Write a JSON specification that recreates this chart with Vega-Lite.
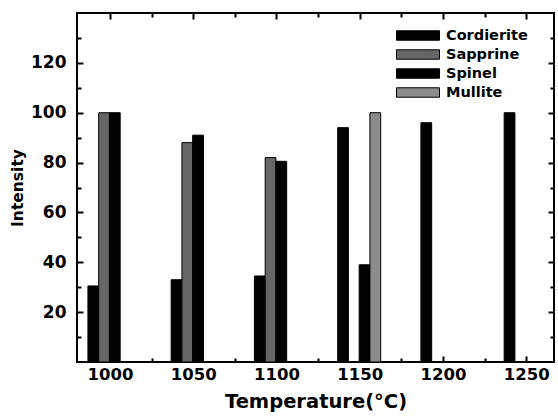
{
  "$schema": "https://vega.github.io/schema/vega-lite/v6.json",
  "width": 477,
  "height": 349,
  "autosize": {"type": "none"},
  "padding": {"left": 77, "top": 13, "right": 4, "bottom": 56},
  "background": "white",
  "config": {
    "view": {"stroke": "black", "strokeWidth": 2},
    "font": "DejaVu Sans"
  },
  "data": {
    "values": [
      {"T": 1000, "phase": "Cordierite", "I": 30.5},
      {"T": 1000, "phase": "Sapprine", "I": 100},
      {"T": 1000, "phase": "Spinel", "I": 100},
      {"T": 1050, "phase": "Cordierite", "I": 33},
      {"T": 1050, "phase": "Sapprine", "I": 88},
      {"T": 1050, "phase": "Spinel", "I": 91},
      {"T": 1100, "phase": "Cordierite", "I": 34.5},
      {"T": 1100, "phase": "Sapprine", "I": 82},
      {"T": 1100, "phase": "Spinel", "I": 80.5},
      {"T": 1150, "phase": "Cordierite", "I": 94},
      {"T": 1150, "phase": "Spinel", "I": 39},
      {"T": 1150, "phase": "Mullite", "I": 100},
      {"T": 1200, "phase": "Cordierite", "I": 96},
      {"T": 1250, "phase": "Cordierite", "I": 100}
    ]
  },
  "layer": [
    {
      "mark": {"type": "bar", "stroke": "black", "strokeWidth": 1},
      "encoding": {
        "x": {
          "field": "T", "type": "ordinal",
          "scale": {"domain": [1000, 1025, 1050, 1075, 1100, 1125, 1150, 1175, 1200, 1225, 1250], "paddingInner": 0, "paddingOuter": 0.23, "align": 0.66},
          "axis": {
            "orient": "bottom",
            "labelExpr": "datum.value % 50 === 0 ? datum.label : ''",
            "labelAngle": 0,
            "tickSize": {"condition": {"test": "datum.value % 50 === 0", "value": -6}, "value": -4},
            "tickColor": "black", "tickWidth": 2,
            "domain": false, "grid": false,
            "labelFont": "DejaVu Sans", "labelFontWeight": "bold", "labelFontSize": 16.5,
            "labelColor": "black", "labelPadding": 10, "labelFlush": false,
            "title": "Temperature(°C)",
            "titleFont": "DejaVu Sans", "titleFontWeight": "bold", "titleFontSize": 19.5,
            "titleColor": "black", "titlePadding": 8
          }
        },
        "xOffset": {
          "field": "phase", "type": "nominal",
          "scale": {"domain": ["Cordierite", "Sapprine", "Spinel", "Mullite"], "range": [-1.7, 41.3], "paddingInner": 0, "paddingOuter": 0}
        },
        "y": {
          "field": "I", "type": "quantitative",
          "stack": null,
          "scale": {"domain": [0, 140], "nice": false, "zero": false},
          "axis": {
            "orient": "left",
            "values": [10, 20, 30, 40, 50, 60, 70, 80, 90, 100, 110, 120, 130],
            "labelExpr": "datum.value % 20 === 0 ? datum.label : ''",
            "tickSize": {"condition": {"test": "datum.value % 20 === 0", "value": -6}, "value": -4},
            "tickColor": "black", "tickWidth": 2,
            "domain": false, "grid": false,
            "labelFont": "DejaVu Sans", "labelFontWeight": "bold", "labelFontSize": 17,
            "labelColor": "black", "labelPadding": 17,
            "title": "Intensity",
            "titleFont": "DejaVu Sans", "titleFontWeight": "bold", "titleFontSize": 15.5,
            "titleColor": "black", "titlePadding": 5
          }
        },
        "color": {
          "field": "phase", "type": "nominal",
          "scale": {"domain": ["Cordierite", "Sapprine", "Spinel", "Mullite"], "range": ["#000000", "#666666", "#000000", "#8c8c8c"]},
          "legend": {
            "orient": "none", "legendX": 319, "legendY": 13,
            "title": null, "padding": 0,
            "symbolType": "M-1,-0.22H1V0.22H-1Z", "symbolSize": 1849,
            "symbolStrokeColor": "black", "symbolStrokeWidth": 1,
            "clipHeight": 19, "rowPadding": 0,
            "labelFont": "DejaVu Sans", "labelFontWeight": "bold", "labelFontSize": 14.5,
            "labelColor": "black", "labelOffset": 6
          }
        }
      }
    },
    {
      "mark": {"type": "bar", "opacity": 0},
      "encoding": {
        "x": {
          "field": "T", "type": "ordinal",
          "axis": {
            "orient": "top",
            "labels": false, "title": null,
            "tickSize": {"condition": {"test": "datum.value % 50 === 0", "value": -6}, "value": -4},
            "tickColor": "black", "tickWidth": 2,
            "domain": false, "grid": false
          }
        },
        "y": {
          "field": "I", "type": "quantitative",
          "stack": null,
          "axis": {
            "orient": "right",
            "values": [10, 20, 30, 40, 50, 60, 70, 80, 90, 100, 110, 120, 130],
            "labels": false, "title": null,
            "tickSize": {"condition": {"test": "datum.value % 20 === 0", "value": -6}, "value": -4},
            "tickColor": "black", "tickWidth": 2,
            "domain": false, "grid": false
          }
        }
      }
    }
  ],
  "resolve": {"axis": {"x": "independent", "y": "independent"}}
}
